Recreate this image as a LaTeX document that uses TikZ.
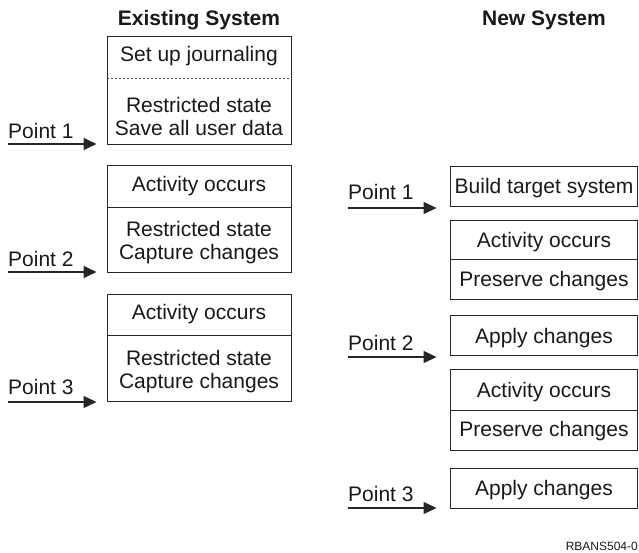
\documentclass[tikz,border=0pt]{standalone}
\usepackage{fontspec}
\setmainfont{Liberation Sans}
\usetikzlibrary{arrows.meta}
\begin{document}
\begin{tikzpicture}[x=1pt,y=-1pt,
  box/.style={draw=black!85, line width=0.9pt, minimum width=184pt, inner sep=0pt},
  lbl/.style={font=\fontsize{21}{23}\selectfont, text=black!90, align=center, inner sep=0pt},
  plbl/.style={font=\fontsize{21}{23}\selectfont, text=black!90, anchor=west, inner sep=0pt},
  head/.style={font=\fontsize{21}{23}\selectfont\bfseries, text=black!90, inner sep=0pt},
  arr/.style={line width=1.2pt, draw=black!85, -{Triangle[length=13pt,width=12pt]}},
  divd/.style={line width=0.8pt, draw=black!70, dash pattern=on 2pt off 2pt},
  divs/.style={line width=0.9pt, draw=black!85}]
\useasboundingbox (0,0) rectangle (639,552);

% headings
\node[head] (h1) at (199,20) {Existing System};
\node[head] (h2) at (544,20) {New System};

% existing system boxes
\node[box, minimum height=108pt] (e1) at (199,90) {};
\node[box, minimum height=107pt] (e2) at (199,218.5) {};
\node[box, minimum height=107pt] (e3) at (199,347.5) {};
\draw[divd] (e1.west |- 0,78) -- (e1.east |- 0,78);
\draw[divs] (e2.west |- 0,207) -- (e2.east |- 0,207);
\draw[divs] (e3.west |- 0,335) -- (e3.east |- 0,335);

\node[lbl] (e1a) at (199,56) {Set up journaling};
\node[lbl] (e1b) at (199,116) {Restricted state\\Save all user data};
\node[lbl] (e2a) at (199,186) {Activity occurs};
\node[lbl] (e2b) at (199,243) {Restricted state\\Capture changes};
\node[lbl] (e3a) at (199,314) {Activity occurs};
\node[lbl] (e3b) at (199,372) {Restricted state\\Capture changes};

% new system boxes
\node[box, minimum width=187pt, minimum height=40pt] (r1) at (543.5,186) {};
\node[box, minimum width=187pt, minimum height=79pt] (r2) at (543.5,259.5) {};
\node[box, minimum width=187pt, minimum height=40pt] (r3) at (543.5,335) {};
\node[box, minimum width=187pt, minimum height=81pt] (r4) at (543.5,409.5) {};
\node[box, minimum width=187pt, minimum height=40pt] (r5) at (543.5,488) {};
\draw[divs] (r2.west |- 0,259) -- (r2.east |- 0,259);
\draw[divs] (r4.west |- 0,410) -- (r4.east |- 0,410);

\node[lbl] (r1a) at (544,188) {Build target system};
\node[lbl] (r2a) at (544,242) {Activity occurs};
\node[lbl] (r2b) at (544,281) {Preserve changes};
\node[lbl] (r3a) at (544,338) {Apply changes};
\node[lbl] (r4a) at (544,392) {Activity occurs};
\node[lbl] (r4b) at (544,431) {Preserve changes};
\node[lbl] (r5a) at (544,490) {Apply changes};

% point labels
\node[plbl] (p1) at (8,131) {Point 1};
\node[plbl] (p2) at (8,259) {Point 2};
\node[plbl] (p3) at (8,387) {Point 3};
\node[plbl] (q1) at (348,192) {Point 1};
\node[plbl] (q2) at (348,343) {Point 2};
\node[plbl] (q3) at (348,494) {Point 3};

% arrows
\coordinate (pa1) at (8,144);
\coordinate (pa2) at (8,272);
\coordinate (pa3) at (8,402);
\coordinate (qa1) at (348,208);
\coordinate (qa2) at (348,357);
\coordinate (qa3) at (348,508);
\draw[arr, shorten >=10pt] (pa1) -- (pa1 -| e1.west);
\draw[arr, shorten >=10pt] (pa2) -- (pa2 -| e2.west);
\draw[arr, shorten >=10pt] (pa3) -- (pa3 -| e3.west);
\draw[arr, shorten >=13pt] (qa1) -- (qa1 -| r1.west);
\draw[arr, shorten >=13pt] (qa2) -- (qa2 -| r3.west);
\draw[arr, shorten >=13pt] (qa3) -- (qa3 -| r5.west);

\node[font=\fontsize{12}{14}\selectfont, text=black!90, anchor=east, inner sep=0pt] (id) at (638,546) {RBANS504-0};
\end{tikzpicture}
\end{document}
